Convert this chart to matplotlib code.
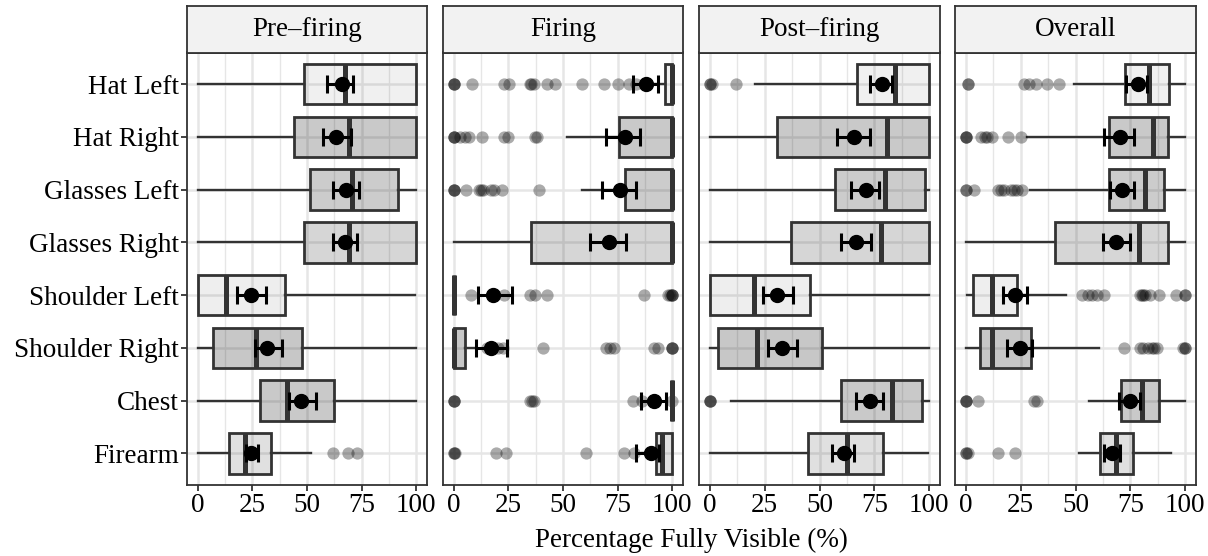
import numpy as np
import matplotlib
matplotlib.use("Agg")
import matplotlib.pyplot as plt

plt.rcParams['font.family'] = ['Liberation Serif', 'DejaVu Serif']

categories = ["Hat Left", "Hat Right", "Glasses Left", "Glasses Right",
              "Shoulder Left", "Shoulder Right", "Chest", "Firearm"]
panels = ["Pre\u2013firing", "Firing", "Post\u2013firing", "Overall"]
xticks = [0, 25, 50, 75, 100]
fill_alpha = [0.06, 0.21, 0.20, 0.16, 0.065, 0.22, 0.21, 0.12]

# Pre-firing
pre_q1 = [48.7, 44.1, 51.3, 48.4, 0.0, 7.0, 28.6, 14.2]
pre_med = [67.4, 69.1, 70.5, 69.4, 13.1, 26.5, 40.8, 21.8]
pre_q3 = [100, 100, 91.6, 100, 40.0, 47.5, 62.4, 33.5]
pre_wlo = [0, 0, 0, 0, 0, 0, 0, 0]
pre_whi = [100, 100, 99.8, 100, 99.5, 100, 100, 51.9]
pre_mean = [65.9, 63.5, 67.9, 67.6, 24.5, 31.7, 47.3, 24.2]
pre_cilo = [59.0, 57.5, 61.8, 61.8, 18.1, 26.0, 41.7, 22.2]
pre_cihi = [71.2, 70.2, 73.7, 72.9, 31.2, 38.7, 53.9, 27.5]
pre_out = [[], [], [], [], [], [], [], [62, 68.6, 72.9]]

# Firing
fir_q1 = [96.8, 75.8, 78.6, 35.3, 0.0, 0.0, 100, 92.7]
fir_med = [100, 100, 100, 100, 0.0, 0.0, 100, 95.5]
fir_q3 = [100, 100, 100, 99.8, 0.0, 5.1, 100, 100]
fir_wlo = [92, 51.7, 58.5, 0, 0, 0, 100, 86]
fir_whi = [100, 100, 100, 100, 0, 9.3, 100, 100]
fir_mean = [88.2, 78.4, 76.1, 70.9, 17.7, 16.9, 91.7, 90.2]
fir_cilo = [81.9, 69.8, 68.0, 62.5, 10.9, 10.1, 85.7, 83.4]
fir_cihi = [93.5, 85.4, 83.4, 78.9, 26.4, 24.5, 97.0, 94.0]
fir_out = [
    [0, 0, 0, 8.3, 22.9, 25.2, 35, 35.5, 36.5, 42.6, 46.4, 58.9, 69, 75.1, 80.4, 83.4],
    [0, 0, 0, 3, 5, 7, 13.1, 22.9, 25.0, 37, 38],
    [0, 0, 0, 5.6, 11.5, 12.5, 13.5, 16.9, 18.4, 22.2, 38.8],
    [],
    [7.8, 23, 35, 37.3, 42.6, 87.2, 98, 99, 100, 100, 100],
    [15, 20, 22.5, 41, 69.8, 71.5, 73.6, 91.7, 93.5, 100, 100, 100],
    [0, 0, 0, 35, 36, 36.5, 81.9, 86.4, 100],
    [0, 0, 0.5, 19.2, 23.7, 60.7, 78.1, 82.6],
]

# Post-firing
post_q1 = [67.2, 30.8, 57.0, 37.2, 0.0, 3.9, 59.6, 44.8]
post_med = [84.5, 80.7, 79.7, 77.9, 19.9, 21.5, 83.2, 62.7]
post_q3 = [100, 100, 98.2, 100, 45.6, 51.2, 96.7, 79.0]
post_wlo = [20.4, 0, 0, 0, 0, 0, 9.6, 0]
post_whi = [100, 100, 100, 100, 100, 100, 100, 99.3]
post_mean = [78.7, 65.6, 71.0, 66.6, 30.6, 32.9, 72.9, 61.4]
post_cilo = [72.9, 57.9, 64.5, 59.9, 24.1, 26.5, 66.8, 55.8]
post_cihi = [83.2, 73.2, 77.1, 73.3, 38.0, 39.8, 79.0, 65.7]
post_out = [[0, 0, 1, 11.9], [], [], [], [], [], [0, 0, 0], []]

# Overall
ovr_q1 = [72.7, 65.3, 65.2, 40.5, 3.3, 6.5, 70.8, 61.4]
ovr_med = [83.5, 85.3, 81.5, 79.1, 11.7, 11.7, 80.3, 68.5]
ovr_q3 = [92.7, 92.0, 90.6, 92.0, 23.5, 29.5, 88.2, 76.2]
ovr_wlo = [49.2, 28.0, 29.2, 0, 0.5, 0, 56.2, 51.8]
ovr_whi = [100, 100, 100, 100, 45.5, 60.9, 100, 93.5]
ovr_mean = [78.3, 70.5, 71.2, 68.5, 22.4, 24.5, 75.0, 66.7]
ovr_cilo = [73.0, 63.2, 65.6, 62.4, 16.7, 18.9, 69.7, 62.9]
ovr_cihi = [82.6, 76.5, 76.8, 74.7, 28.0, 30.3, 79.5, 70.5]
ovr_out = [
    [0.8, 0.8, 26.5, 29, 31.8, 37.1, 42.4],
    [0, 0, 0, 6.8, 8.5, 9.8, 12.1, 19.2, 25.3],
    [0, 0, 3.8, 14.4, 16, 17.4, 20.5, 22, 23.5, 25.8],
    [],
    [53, 55.5, 57.6, 59.8, 63.2, 79.5, 80.3, 81, 81.8, 84, 87.9, 95.9, 100, 100],
    [72.3, 79.5, 81, 83, 84.8, 86, 87.1, 99.2, 100, 100],
    [0, 0, 0, 5.6, 31, 32.6],
    [0, 0, 0.8, 14.4, 22.3],
]

data = [
    (pre_q1, pre_med, pre_q3, pre_wlo, pre_whi, pre_mean, pre_cilo, pre_cihi, pre_out),
    (fir_q1, fir_med, fir_q3, fir_wlo, fir_whi, fir_mean, fir_cilo, fir_cihi, fir_out),
    (post_q1, post_med, post_q3, post_wlo, post_whi, post_mean, post_cilo, post_cihi, post_out),
    (ovr_q1, ovr_med, ovr_q3, ovr_wlo, ovr_whi, ovr_mean, ovr_cilo, ovr_cihi, ovr_out),
]

W, H = 1208, 556
fig = plt.figure(figsize=(W / 100, H / 100), dpi=100)
panel_x = [(187, 427), (443, 683), (699, 940), (955, 1196)]
ptop, pbot, stop = 52.5, 485, 6
edge = '#333333'
grid_c = '#e6e6e6'
fs = 19.5

ypos = np.arange(len(categories))
for pi, (name, (x0, x1)) in enumerate(zip(panels, panel_x)):
    ax = fig.add_axes([x0 / W, 1 - pbot / H, (x1 - x0) / W, (pbot - ptop) / H])
    q1, med, q3, wlo, whi, mean, cilo, cihi, outs = data[pi]
    ax.set_xlim(-5, 105)
    ax.set_ylim(len(categories) - 0.4, -0.6)
    for v in xticks:
        ax.axvline(v, color=grid_c, lw=1.8, zorder=0)
    for v in np.arange(12.5, 100, 25):
        ax.axvline(v, color=grid_c, lw=1.0, zorder=0)
    for y in ypos:
        ax.axhline(y, color=grid_c, lw=1.8, zorder=0)
    stats = []
    for i in range(len(categories)):
        stats.append(dict(q1=q1[i], med=med[i], q3=q3[i], whislo=wlo[i],
                          whishi=whi[i], fliers=[], label=categories[i]))
    bp = ax.bxp(stats, positions=ypos, widths=0.77, orientation='horizontal',
                patch_artist=True, showcaps=False, showfliers=False,
                boxprops=dict(edgecolor=edge, linewidth=2.0),
                whiskerprops=dict(color=edge, linewidth=1.7),
                medianprops=dict(color=edge, linewidth=3.6, solid_capstyle='butt'),
                manage_ticks=False)
    for i, patch in enumerate(bp['boxes']):
        patch.set_facecolor((0, 0, 0, fill_alpha[i]))
        patch.set_zorder(2)
    for ln in bp['whiskers']:
        ln.set_zorder(1.5)
    for ln in bp['medians']:
        ln.set_zorder(3)
    for i, o in enumerate(outs):
        if o:
            ax.scatter(o, np.full(len(o), ypos[i]), s=78, color='black', alpha=0.33,
                       linewidths=0, zorder=2.5)
    mean_a = np.array(mean)
    xerr = np.vstack([mean_a - np.array(cilo), np.array(cihi) - mean_a])
    ax.errorbar(mean_a, ypos, xerr=xerr, fmt='o', color='black', ms=10,
                elinewidth=2.2, capsize=6.5, capthick=2.2, zorder=5)
    ax.set_xticks(xticks)
    ax.set_xticklabels([str(v) for v in xticks], fontsize=fs)
    ax.tick_params(axis='both', color=edge, length=4, width=1.3, pad=2)
    if pi == 0:
        ax.set_yticks(ypos)
        ax.set_yticklabels(categories, fontsize=fs)
    else:
        ax.set_yticks(ypos)
        ax.set_yticklabels([])
        ax.tick_params(axis='y', length=0)
    for s in ax.spines.values():
        s.set_color(edge)
        s.set_linewidth(1.3)
    # strip
    sax = fig.add_axes([x0 / W, 1 - ptop / H, (x1 - x0) / W, (ptop - stop) / H])
    sax.set_facecolor('#f2f2f2')
    sax.set_xticks([])
    sax.set_yticks([])
    for s in sax.spines.values():
        s.set_color(edge)
        s.set_linewidth(1.3)
    sax.text(0.5, 0.5, name, ha='center', va='center', fontsize=fs, transform=sax.transAxes)

fig.text((187 + 1196) / 2 / W, 1 - 540 / H, "Percentage Fully Visible (%)",
         ha='center', va='center', fontsize=fs)

fig.savefig("out.png", dpi=100)
